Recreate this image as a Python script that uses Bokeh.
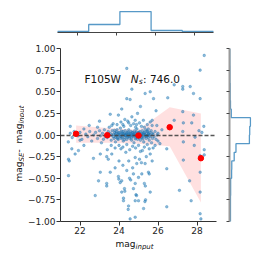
import math
from bokeh.plotting import figure
from bokeh.layouts import column, row
from bokeh.models import Range1d, FixedTicker
from bokeh.core.properties import value
from bokeh.embed import file_html
from bokeh.resources import INLINE

# ---------------- data ----------------
filter_name = "F105W"
n_sources = 746.0

scatter_pts = [
    # upper outliers
    (28.37,0.92),(28.16,0.75),(26.83,0.58),(27.27,0.56),(27.27,0.53),(27.65,0.56),(27.82,0.48),(28.16,0.42),
    (25.6,0.50),(25.77,0.42),(25.34,0.48),(26.5,0.43),(25.9,0.28),(27.27,0.27),(27.82,0.23),(27.3,0.14),
    (26.83,0.17),(27.73,0.14),(25.7,0.17),(25.7,0.11),(25.94,0.11),(27.27,0.04),(24.4,0.77),(24.66,0.53),
    (24.57,0.41),(24.4,0.42),(24.14,0.30),(23.55,0.24),(23.97,0.23),(23.0,0.16),(22.47,0.11),(21.5,0.10),
    (24.66,0.21),(24.83,0.17),(23.63,0.11),(24.95,0.25),(25.1,0.33),(24.3,0.18),(24.2,0.12),(24.5,0.14),
    (24.9,0.12),(25.3,0.09),(25.5,0.07),(26.2,0.06),(26.0,0.02),(28.1,0.05),(28.35,0.10),(28.25,0.03),
    # lower outliers
    (21.58,-0.16),(21.41,-0.28),(21.45,-0.30),(21.75,-0.22),(21.92,-0.18),(21.41,-0.47),(22.78,-0.70),
    (22.69,-0.27),(23.04,-0.22),(23.37,-0.25),(23.45,-0.28),(23.04,-0.43),(22.95,-0.53),(23.37,-0.56),
    (23.37,-0.59),(23.55,-0.43),(23.63,-0.22),(23.97,-0.48),(23.99,-0.51),(24.06,-0.55),(24.14,-0.53),
    (24.28,-0.62),(24.3,-0.65),(24.14,-0.66),(24.23,-0.73),(24.23,-0.76),(24.49,-0.82),(24.47,-0.86),
    (24.57,-0.97),(24.54,-0.50),(24.6,-0.52),(24.74,-0.45),(24.4,-0.41),(24.83,-0.56),(24.74,-0.62),
    (24.83,-0.76),(24.83,-0.26),(24.91,-0.33),(25.15,-0.32),(25.34,-0.33),(25.51,-0.43),(25.55,-0.45),
    (25.17,-0.45),(25.0,-0.49),(25.3,-0.56),(25.35,-0.59),(25.6,-0.66),(25.36,-0.75),(25.33,-0.77),
    (25.26,-0.85),(24.83,-0.95),(26.45,-0.16),(26.45,-0.39),(26.45,-0.83),(27.1,-0.64),(27.3,-0.29),
    (27.62,-0.53),(27.7,-0.76),(27.9,-0.025),(27.86,-0.12),(28.16,-0.24),(28.16,-0.43),(28.16,-0.66),
    (28.16,-0.91),(28.2,-0.97),(28.37,-0.17),(28.37,-0.23),(27.3,-0.08),(24.87,-0.69),(24.9,-0.70),
    (25.0,-0.76),(24.2,-0.35),(24.5,-0.30),(24.7,-0.38),(25.05,-0.28),(25.4,-0.25),(25.6,-0.22),
    (25.7,-0.30),(24.0,-0.30),(23.8,-0.38),(24.35,-0.20),(25.2,-0.18),(25.75,-0.15),(24.1,-0.16),
    (22.2,-0.12),(22.0,-0.06),
    # bright end, near zero
    (21.5,0.02),(21.6,-0.03),(21.7,0.04),(21.9,-0.01),(22.0,0.03),(22.1,-0.05),(22.3,0.01),(22.4,-0.02),
    (22.5,0.04),(22.6,-0.07),(22.7,0.0),(22.8,0.03),(22.9,-0.04),(23.0,0.05),(23.05,-0.01),(23.1,-0.09),
    (23.15,0.02),(23.2,-0.05),(23.25,0.06),(23.3,-0.02),(21.4,-0.08),(22.2,0.07),(22.9,0.09),
    # dense core
    (23.35,0.01),(23.4,-0.03),(23.45,0.04),(23.5,-0.01),(23.55,0.02),(23.6,-0.06),(23.62,0.0),(23.65,0.05),
    (23.7,-0.02),(23.72,0.01),(23.75,-0.04),(23.78,0.03),(23.8,0.0),(23.82,-0.08),(23.85,0.02),(23.88,-0.01),
    (23.9,0.06),(23.92,-0.03),(23.95,0.01),(23.97,-0.05),(24.0,0.0),(24.02,0.03),(24.05,-0.02),(24.07,0.08),
    (24.1,0.01),(24.12,-0.04),(24.15,0.02),(24.17,-0.01),(24.2,0.04),(24.22,-0.07),(24.25,0.0),(24.27,0.02),
    (24.3,-0.03),(24.32,0.05),(24.35,-0.01),(24.37,0.01),(24.4,-0.05),(24.42,0.03),(24.45,0.0),(24.47,-0.02),
    (24.5,0.06),(24.52,0.01),(24.55,-0.04),(24.57,0.02),(24.6,-0.01),(24.62,0.04),(24.65,-0.06),(24.67,0.0),
    (24.7,0.03),(24.72,-0.02),(24.75,0.01),(24.77,-0.09),(24.8,0.05),(24.82,-0.01),(24.85,0.02),(24.87,-0.03),
    (24.9,0.0),(24.92,0.07),(24.95,-0.05),(24.97,0.01),(25.0,-0.02),(25.02,0.03),(25.05,-0.01),(25.07,0.04),
    (25.1,-0.06),(25.12,0.0),(25.15,0.02),(25.17,-0.03),(25.2,0.05),(25.22,-0.01),(25.25,0.01),(25.27,-0.08),
    (25.3,0.03),(25.32,-0.02),(25.35,0.0),(25.37,0.06),(25.4,-0.04),(25.42,0.02),(25.45,-0.01),(25.47,0.04),
    (25.5,-0.03),(25.52,0.01),(25.55,-0.06),(25.57,0.03),(25.6,0.0),(25.62,-0.02),(25.65,0.05),(25.67,-0.09),
    (25.7,0.02),(25.72,-0.04),(25.75,0.01),(25.8,-0.02),(25.85,0.04),(25.9,-0.05),(25.95,0.0),(26.0,-0.07),
    (24.33,-0.005),(24.38,0.015),(24.43,-0.025),(24.48,0.035),(24.53,-0.015),(24.58,0.005),(24.63,-0.035),
    (24.68,0.025),(24.73,-0.005),(24.78,0.015),(24.83,-0.045),(24.88,0.035),(24.93,-0.015),(24.98,0.025),
    (25.03,-0.035),(25.08,0.005),(25.13,-0.025),(25.18,0.015),(25.23,-0.045),(25.28,0.025),(25.33,0.005),
    (25.38,-0.015),(25.43,0.045),(25.48,-0.005),(25.53,0.015),(24.08,-0.015),(24.13,0.045),(24.18,-0.035),
    (24.23,0.015),(24.28,-0.055),(23.98,0.025),(23.93,-0.045),(23.87,0.035),(23.83,-0.025),(23.77,0.055),
    # halo of the core
    (23.9,0.12),(24.1,0.15),(24.25,0.1),(24.45,0.16),(24.6,0.11),(24.75,0.13),(24.85,0.09),(25.05,0.14),
    (25.15,0.1),(25.25,0.17),(25.45,0.12),(25.6,0.15),(23.7,0.13),(23.5,0.09),(24.0,-0.12),(24.2,-0.14),
    (24.4,-0.11),(24.55,-0.17),(24.7,-0.13),(24.85,-0.15),(25.0,-0.12),(25.1,-0.19),(25.3,-0.14),
    (25.45,-0.11),(25.55,-0.16),(23.8,-0.15),(23.6,-0.12),(23.4,-0.17),(25.85,-0.12),(26.1,-0.1),
]
scatter_x = [p[0] for p in scatter_pts]
scatter_y = [p[1] for p in scatter_pts]

bin_centers = [21.8, 23.4, 25.0, 26.6, 28.2]
median_offset = [0.014, -0.002, -0.006, 0.09, -0.268]
band_upper = [0.11, 0.08, 0.06, 0.32, 0.25]
band_lower = [-0.09, -0.09, -0.10, -0.13, -0.78]

top_hist_edges = [21.0, 22.6, 24.2, 25.8, 27.4, 29.0]
top_hist_counts = [23, 185, 485, 46, 23]

right_hist_edges = [-1.0, -0.9, -0.8, -0.7, -0.6, -0.5, -0.4, -0.3, -0.2, -0.1, 0.0,
                    0.1, 0.2, 0.3, 0.4, 0.5, 0.6, 0.7, 0.8, 0.9, 1.0]
right_hist_counts = [12, 12, 12, 14, 14, 26, 28, 58, 80, 246,
                     250, 259, 22, 12, 8, 8, 5, 5, 4, 4]

x_ticks = [22, 24, 26, 28]
y_ticks = [-1.0, -0.75, -0.5, -0.25, 0.0, 0.25, 0.5, 0.75, 1.0]
y_tick_labels = ["\u22121.00", "\u22120.75", "\u22120.50", "\u22120.25", "0.00", "0.25", "0.50", "0.75", "1.00"]

x_title = ("mag", "input")
y_title = ("mag", "SE", " - ", "mag", "input")

# ---------------- layout constants ----------------
X0, X1, Y0, Y1 = 21.0, 29.0, -1.0, 1.0
FW, FH = 156, 173
PXX = FW / (X1 - X0)
PXY = FH / (Y1 - Y0)
FONT = "DejaVu Sans"
BLUE = "#1f77b4"
AX = "#333333"
TXT = "#111111"

common = dict(output_backend="svg", toolbar_location=None, title=None)


def bare(fig):
    fig.outline_line_color = None
    fig.grid.visible = False
    return fig


# ---------------- main panel ----------------
main = bare(figure(frame_width=FW, frame_height=FH, x_range=Range1d(X0, X1), y_range=Range1d(Y0, Y1),
                   min_border_left=33, min_border_right=5, min_border_top=10, min_border_bottom=16, **common))
main.xaxis.ticker = FixedTicker(ticks=x_ticks)
main.yaxis.ticker = FixedTicker(ticks=y_ticks)
main.yaxis.major_label_overrides = {t: l for t, l in zip(y_ticks, y_tick_labels)}
for ax in (main.xaxis, main.yaxis):
    ax.minor_tick_line_color = None
    ax.axis_line_color = AX
    ax.major_tick_line_color = AX
    ax.major_tick_out = 4
    ax.major_tick_in = 0
    ax.major_label_text_font = FONT
    ax.major_label_text_font_size = "9px"
    ax.major_label_text_color = "#222222"
    ax.major_label_standoff = 1

main.varea(x=bin_centers, y1=band_lower, y2=band_upper, fill_color="red", fill_alpha=0.12)
main.scatter(scatter_x, scatter_y, size=2.6, fill_color=BLUE, line_color=BLUE, fill_alpha=0.5, line_alpha=0.35)
main.hspan(y=[0.0], line_color="#444444", line_width=1.6, line_dash="4 2", line_alpha=0.9)
main.scatter(bin_centers, median_offset, size=5.5, fill_color="red", line_color="red")

tx, ty = X0 + (81 - 57) / PXX, Y1 - (78 - 48) / PXY
tstyle = dict(text_font=value(FONT), text_baseline="alphabetic", text_align="left", text_color=TXT)
main.text(x=[tx], y=[ty], text=[filter_name], text_font_size=value("10.5px"), **tstyle)
main.text(x=[tx], y=[ty], text=["N"], x_offset=46.3, text_font_size=value("10.5px"),
          text_font_style="italic", **tstyle)
main.text(x=[tx], y=[ty], text=["s"], x_offset=54.3, y_offset=2.5, text_font_size=value("7.5px"),
          text_font_style="italic", **tstyle)
main.text(x=[tx], y=[ty], text=[": %.1f" % n_sources], x_offset=58.5, text_font_size=value("10.5px"), **tstyle)

# ---------------- top histogram ----------------
top = bare(figure(frame_width=FW, frame_height=22, x_range=main.x_range,
                  y_range=Range1d(0, max(top_hist_counts) * 1.05),
                  min_border_left=57, min_border_right=5, min_border_top=10, min_border_bottom=6, **common))
top.yaxis.visible = False
top.xaxis.ticker = FixedTicker(ticks=x_ticks)
top.xaxis.major_label_overrides = {t: "" for t in x_ticks}
top.xaxis.major_label_standoff = 0
top.xaxis.minor_tick_line_color = None
top.xaxis.major_tick_out = 3
top.xaxis.major_tick_in = 0
top.xaxis.axis_line_color = "#444444"
top.xaxis.major_tick_line_color = "#444444"
sx, sy = [top_hist_edges[0]], [0]
for i, c in enumerate(top_hist_counts):
    sx += [top_hist_edges[i], top_hist_edges[i + 1]]
    sy += [c, c]
sx.append(top_hist_edges[-1]); sy.append(0)
top.line(sx, sy, line_color=BLUE, line_alpha=0.75, line_width=1.3)

# ---------------- right histogram ----------------
right = bare(figure(frame_width=22, frame_height=FH, x_range=Range1d(0, max(right_hist_counts) * 1.05),
                    y_range=main.y_range,
                    min_border_left=8, min_border_right=2, min_border_top=10, min_border_bottom=16, **common))
right.xaxis.visible = False
right.yaxis.ticker = FixedTicker(ticks=y_ticks)
right.yaxis.major_label_overrides = {t: "" for t in y_ticks}
right.yaxis.major_label_standoff = 0
right.yaxis.minor_tick_line_color = None
right.yaxis.major_tick_out = 3
right.yaxis.major_tick_in = 0
right.yaxis.axis_line_color = "#9a9a9a"
right.yaxis.axis_line_width = 2
right.yaxis.major_tick_line_color = "#444444"
rx, ry = [0], [right_hist_edges[0]]
for i, c in enumerate(right_hist_counts):
    ry += [right_hist_edges[i], right_hist_edges[i + 1]]
    rx += [c, c]
ry.append(right_hist_edges[-1]); rx.append(0)
right.line(rx, ry, line_color=BLUE, line_alpha=0.75, line_width=1.3)

# ---------------- y axis title (own strip, page-pixel coordinates) ----------------
YL_W = 24
ylab = bare(figure(frame_width=YL_W, frame_height=10 + FH + 16, x_range=Range1d(0, YL_W),
                   y_range=Range1d(38 + 10 + FH + 16, 38), min_border=0, **common))
ylab.axis.visible = False
big, small = 9.0, 7.0
widths = [2.222 * big, 1.267 * small, 0.997 * big, 2.222 * big, 2.573 * small]
sizes = [big, small, big, big, small]
styles = ["normal", "italic", "normal", "normal", "italic"]
subs = [0, 2.5, 0, 0, 2.5]
total = sum(widths)
ystart = 133 + total / 2
acc = 0.0
for txt, w, fs, st, sb in zip(y_title, widths, sizes, styles, subs):
    ylab.text(x=[18.5 + sb], y=[ystart - acc], text=[txt], angle=math.pi / 2,
              text_font=value(FONT), text_font_size=value("%gpx" % fs), text_font_style=st,
              text_baseline="alphabetic", text_align="left", text_color=TXT)
    acc += w

# ---------------- x axis title (own strip, page-pixel coordinates) ----------------
xlab = bare(figure(frame_width=FW, frame_height=13, x_range=Range1d(57, 57 + FW),
                   y_range=Range1d(250, 237), min_border_left=57, min_border_right=0,
                   min_border_top=0, min_border_bottom=0, **common))
xlab.axis.visible = False
xlab.text(x=[115], y=[243.5], text=[x_title[0]], text_font=value(FONT), text_font_size=value("9px"),
          text_baseline="alphabetic", text_align="left", text_color=TXT)
xlab.text(x=[115 + 2.222 * big], y=[246], text=[x_title[1]], text_font=value(FONT),
          text_font_size=value("7px"), text_font_style="italic",
          text_baseline="alphabetic", text_align="left", text_color=TXT)

layout = column(top, row(ylab, main, right), xlab)
open("out.html", "w").write(file_html(layout, INLINE))
